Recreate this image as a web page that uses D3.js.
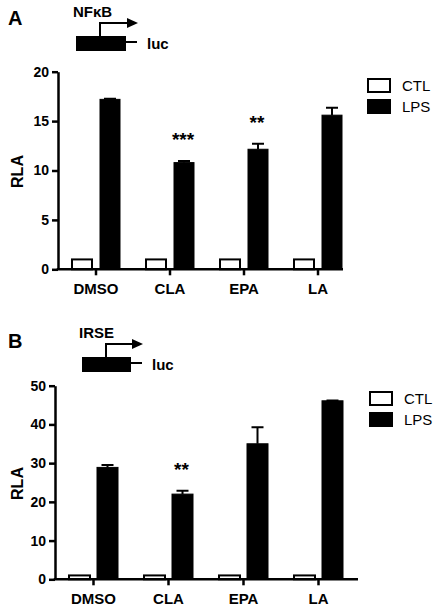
<!DOCTYPE html>
<html>
<head>
<meta charset="utf-8">
<script src="https://cdn.jsdelivr.net/npm/d3@7"></script>
<style>
  body { margin: 0; background: #fff; }
  svg { display: block; font-family: "Liberation Sans", Arial, sans-serif; }
</style>
</head>
<body>
<script>
// data
var groups = ["DMSO", "CLA", "EPA", "LA"];
var seriesNames = ["CTL", "LPS"];

// panel A: NFkB reporter
var ctlA = [1, 1, 1, 1];
var lpsA = [17.2, 10.8, 12.15, 15.6];
var lpsErrA = [0.05, 0.15, 0.55, 0.75];
var starsA = ["", "***", "**", ""];
var ticksA = [0, 5, 10, 15, 20];

// panel B: IRSE reporter
var ctlB = [1, 1, 1, 1];
var lpsB = [28.9, 22.0, 35.0, 46.1];
var lpsErrB = [0.6, 0.9, 4.3, 0.1];
var starsB = ["", "**", "", ""];
var ticksB = [0, 10, 20, 30, 40, 50];

var svg = d3.select("body").append("svg")
    .attr("width", 436)
    .attr("height", 606);

// draw one bar panel
function drawPanel(p) {
  var g = svg.append("g");

  var y = d3.scaleLinear()
    .domain([0, p.ticks[p.ticks.length - 1]])
    .range([p.yBottom, p.yTop]);

  var x0 = d3.scaleBand()
    .domain(groups)
    .range([p.bandStart, p.bandEnd]);

  var half = p.barW + p.gap / 2;
  var x1 = d3.scaleBand()
    .domain(seriesNames)
    .range([-half, half])
    .paddingInner(p.gap / (p.barW + p.gap));

  var rows = groups.map(function(name, i) {
    return {name: name, CTL: p.ctl[i], LPS: p.lps[i], err: p.err[i], star: p.stars[i]};
  });

  var cx = function(d) { return x0(d.name) + x0.bandwidth() / 2; };

  // bars
  seriesNames.forEach(function(s) {
    g.selectAll(".bar-" + s)
      .data(rows)
      .enter()
      .append("rect")
      .attr("x", d => cx(d) + x1(s))
      .attr("width", x1.bandwidth())
      .attr("y", d => y(d[s]))
      .attr("height", d => y(0) - y(d[s]))
      .attr("fill", s == "CTL" ? "#fff" : "#000")
      .attr("stroke", "#000")
      .attr("stroke-width", s == "CTL" ? 2 : 1);
  });

  // error bars (upper only)
  var ex = d => cx(d) + x1("LPS") + x1.bandwidth() / 2;
  g.selectAll(".err")
    .data(rows)
    .enter()
    .append("path")
    .attr("d", d => "M" + ex(d) + "," + y(d.LPS) + "V" + y(d.LPS + d.err) +
                    "M" + (ex(d) - 6) + "," + y(d.LPS + d.err) + "H" + (ex(d) + 6))
    .attr("stroke", "#000")
    .attr("stroke-width", 2)
    .attr("fill", "none");

  // significance stars
  g.selectAll(".star")
    .data(rows.filter(d => d.star))
    .enter()
    .append("text")
    .attr("x", d => ex(d) - 1)
    .attr("y", d => y(d.LPS + d.err) - 15)
    .attr("text-anchor", "middle")
    .style("font-size", "19px")
    .style("font-weight", "bold")
    .text(d => d.star);

  // y axis
  var yAxis = g.append("g")
    .attr("transform", "translate(" + p.axisX + ",0)")
    .call(d3.axisLeft(y).tickValues(p.ticks).tickSize(6).tickSizeOuter(0).tickPadding(3));
  yAxis.select(".domain").attr("stroke-width", 2.5);
  yAxis.selectAll(".tick line").attr("stroke-width", 2.5);
  yAxis.selectAll("text")
    .style("font-size", "14px")
    .style("font-weight", "bold")
    .style("font-family", "Liberation Sans, Arial, sans-serif")
    .attr("fill", "#000");

  // x axis
  var xAxis = g.append("g")
    .attr("transform", "translate(0," + y(0) + ")")
    .call(d3.axisBottom(x0).tickSize(6).tickSizeOuter(0).tickPadding(8));
  xAxis.select(".domain").remove();
  xAxis.selectAll(".tick line").attr("stroke-width", 2.5);
  xAxis.selectAll("text")
    .style("font-size", "15px")
    .style("font-weight", "bold")
    .style("font-family", "Liberation Sans, Arial, sans-serif")
    .attr("fill", "#000");
  g.append("line")
    .attr("x1", p.axisX - 1.25)
    .attr("x2", p.axisEnd)
    .attr("y1", y(0))
    .attr("y2", y(0))
    .attr("stroke", "#000")
    .attr("stroke-width", 2.5);

  // y label
  g.append("text")
    .attr("transform", "translate(" + p.labelX + "," + ((p.yTop + p.yBottom) / 2 + 1) + ") rotate(-90)")
    .attr("text-anchor", "middle")
    .style("font-size", "16px")
    .style("font-weight", "bold")
    .text("RLA");

  // legend
  seriesNames.forEach(function(s, i) {
    var ly = p.legendY + i * 21;
    g.append("rect")
      .attr("x", p.legendX)
      .attr("y", ly)
      .attr("width", 22)
      .attr("height", 13)
      .attr("fill", s == "CTL" ? "#fff" : "#000")
      .attr("stroke", "#000")
      .attr("stroke-width", 2);
    g.append("text")
      .attr("x", p.legendX + 34)
      .attr("y", ly + 12)
      .style("font-size", "15px")
      .text(s);
  });

  // panel letter and reporter schematic
  g.append("text")
    .attr("x", 8).attr("y", p.letterY)
    .style("font-size", "20px").style("font-weight", "bold")
    .text(p.letter);
  var s = p.schema;
  g.append("text")
    .attr("x", s.x - 3).attr("y", s.y - 19)
    .style("font-size", "15px").style("font-weight", "bold")
    .text(p.promoter);
  g.append("rect")
    .attr("x", s.x).attr("y", s.y)
    .attr("width", s.w).attr("height", 15)
    .attr("fill", "#000");
  g.append("line")
    .attr("x1", s.x + s.w).attr("x2", s.x + s.w + 11)
    .attr("y1", s.y + 6).attr("y2", s.y + 6)
    .attr("stroke", "#000").attr("stroke-width", 2);
  g.append("text")
    .attr("x", s.x + s.w + 21).attr("y", s.y + 13)
    .style("font-size", "15px").style("font-weight", "bold")
    .text("luc");
  g.append("path")
    .attr("d", "M" + (s.x + s.arrowX) + "," + s.y + "V" + (s.y - 13) + "H" + (s.x + s.w + 2))
    .attr("stroke", "#000").attr("stroke-width", 2).attr("fill", "none");
  g.append("path")
    .attr("d", "M" + (s.x + s.w + 1) + "," + (s.y - 18) + "L" + (s.x + s.w + 12) + "," + (s.y - 13) +
               "L" + (s.x + s.w + 1) + "," + (s.y - 8) + "Z")
    .attr("fill", "#000");
}

drawPanel({
  ctl: ctlA, lps: lpsA, err: lpsErrA, stars: starsA, ticks: ticksA,
  yTop: 71.7, yBottom: 269.3,
  bandStart: 59, bandEnd: 355, barW: 20, gap: 8,
  axisX: 58, axisEnd: 343, labelX: 23,
  legendX: 368, legendY: 79,
  letter: "A", letterY: 25, promoter: "NF\u03BAB",
  schema: {x: 76, y: 36, w: 50, arrowX: 24}
});

drawPanel({
  ctl: ctlB, lps: lpsB, err: lpsErrB, stars: starsB, ticks: ticksB,
  yTop: 385.7, yBottom: 579.3,
  bandStart: 56, bandEnd: 356, barW: 21, gap: 7,
  axisX: 55, axisEnd: 358, labelX: 23,
  legendX: 370, legendY: 392,
  letter: "B", letterY: 348, promoter: "IRSE",
  schema: {x: 82, y: 357, w: 49, arrowX: 24}
});
</script>
</body>
</html>
